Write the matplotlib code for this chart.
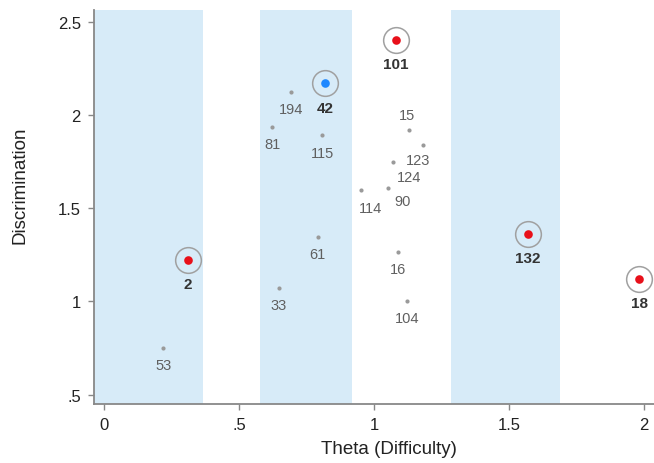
import matplotlib
matplotlib.use("Agg")
import matplotlib.pyplot as plt

# ---- data ----
item_ids = ["53", "2", "33", "61", "194", "81", "115", "42", "101", "15",
            "123", "124", "90", "114", "16", "104", "132", "18"]
theta = [0.219, 0.311, 0.648, 0.791, 0.693, 0.623, 0.809, 0.819, 1.081, 1.130,
         1.183, 1.072, 1.050, 0.952, 1.090, 1.121, 1.571, 1.983]
discrimination = [0.751, 1.224, 1.072, 1.346, 2.124, 1.935, 1.891, 2.170, 2.403, 1.919,
                  1.839, 1.749, 1.610, 1.600, 1.266, 1.005, 1.364, 1.122]
# "red" / "blue" highlighted items, "" = ordinary
highlight = ["", "red", "", "", "", "", "", "blue", "red", "",
             "", "", "", "", "", "", "red", "red"]
band_starts = [-0.04, 0.578, 1.285]
band_ends = [0.367, 0.918, 1.689]
x_ticks = [0, 0.5, 1, 1.5, 2]
x_tick_labels = ["0", ".5", "1", "1.5", "2"]
y_ticks = [0.5, 1, 1.5, 2, 2.5]
y_tick_labels = [".5", "1", "1.5", "2", "2.5"]

# label offsets (points) for crowded items
label_offsets = {"15": (-1.5, 10.5), "123": (-3.5, -11), "124": (11, -11),
                 "90": (11, -9.5), "114": (6.5, -13)}

plt.rcParams["font.family"] = ["Liberation Sans", "DejaVu Sans"]

fig = plt.figure(figsize=(6.54, 4.64), dpi=100)
ax = fig.add_axes([94 / 654, 1 - 405 / 464, 1 - 94 / 654, (405 - 11) / 464])

for s, e in zip(band_starts, band_ends):
    ax.axvspan(s, e, color="#d7ebf8", lw=0, zorder=0)

colors = {"red": "#e8101a", "blue": "#1e88ff"}
for lab, x, y, h in zip(item_ids, theta, discrimination, highlight):
    if h:
        ax.plot(x, y, marker="o", markersize=18.5, mfc="none", mec="#a0a0a0",
                mew=1.1, ls="none", zorder=3)
        ax.plot(x, y, marker="o", markersize=6.2, color=colors[h], mec="none",
                ls="none", zorder=4)
        ax.annotate(lab, (x, y), xytext=(0, -17.5), textcoords="offset points",
                    ha="center", va="center", fontsize=11, fontweight="bold",
                    color="#333333", zorder=5)
    else:
        ax.plot(x, y, marker="o", markersize=3, color="#9a9a9a", mec="none",
                ls="none", zorder=4)
        dx, dy = label_offsets.get(lab, (0, -12.5))
        ax.annotate(lab, (x, y), xytext=(dx, dy), textcoords="offset points",
                    ha="center", va="center", fontsize=10.5,
                    color="#606060", zorder=5)

ax.set_xlim(-0.037, 2.037)
ax.set_ylim(0.45, 2.563)
ax.set_xticks(x_ticks)
ax.set_xticklabels(x_tick_labels)
ax.set_yticks(y_ticks)
ax.set_yticklabels(y_tick_labels)
ax.tick_params(axis="both", direction="out", length=4.5, width=1, color="#888888",
               labelsize=12, labelcolor="#222222", pad=5)

for side in ["top", "right"]:
    ax.spines[side].set_visible(False)
for side in ["left", "bottom"]:
    ax.spines[side].set_color("#888888")
    ax.spines[side].set_linewidth(1.3)

ax.set_xlabel("Theta (Difficulty)", fontsize=13.5, color="#222222", va="center")
ax.set_ylabel("Discrimination", fontsize=13.5, color="#222222", va="center")
ax.xaxis.set_label_coords((389 - 94) / 560, (405 - 450) / 394)
ax.yaxis.set_label_coords((20 - 94) / 560, (405 - 185) / 394)

fig.savefig("out.png", dpi=100)
